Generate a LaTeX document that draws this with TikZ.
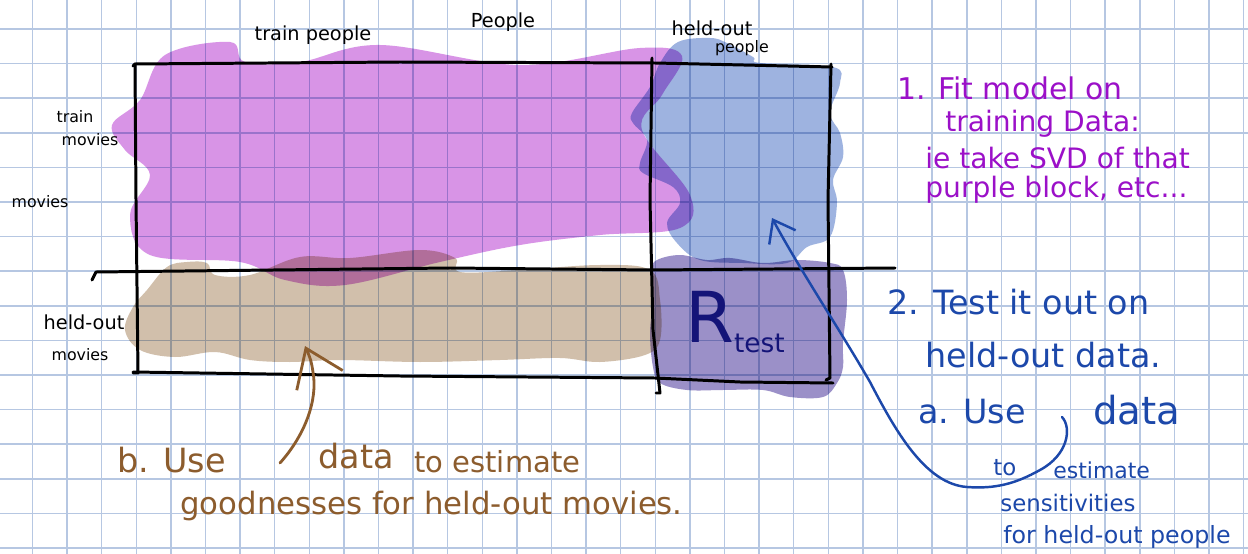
\documentclass[tikz,border=0pt]{standalone}
\usepackage{fontspec}
\setmainfont{DejaVu Sans}
\usepackage{xcolor}
\usepackage{tikz}
\usetikzlibrary{arrows.meta}

\definecolor{gridblue}{RGB}{182,199,226}
\definecolor{blobpurple}{RGB}{216,148,230}
\definecolor{blobblue}{RGB}{158,179,224}
\definecolor{blobtan}{RGB}{209,191,171}
\definecolor{blobtest}{RGB}{155,144,200}
\definecolor{inkpurple}{RGB}{155,16,200}
\definecolor{inkblue}{RGB}{28,72,170}
\definecolor{inkbrown}{RGB}{140,92,45}
\definecolor{inknavy}{RGB}{20,20,120}

\begin{document}
\begin{tikzpicture}[
  x=0.02cm, y=-0.02cm,
  gridline/.style={gridblue, line width=0.9pt},
  blob/.style={blend mode=multiply},
  pen/.style={line width=1.7pt, line cap=round, line join=round},
  tag/.style={inner sep=0pt, font=\fontsize{11}{13}\selectfont},
  smalltag/.style={inner sep=0pt, font=\fontsize{9}{11}\selectfont},
  fitnote/.style={inner sep=0pt, anchor=west, text=inkpurple, font=\fontsize{16}{18}\selectfont},
  testnote/.style={inner sep=0pt, anchor=west, text=inkblue, font=\fontsize{19}{21}\selectfont},
  testsmall/.style={testnote, font=\fontsize{13}{15}\selectfont},
  goodnote/.style={inner sep=0pt, anchor=west, text=inkbrown, font=\fontsize{19}{21}\selectfont},
  arrow/.style={line width=1.4pt, line cap=round, line join=round}
]
  \fill[white] (0,0) rectangle (1248,554);
  \useasboundingbox (0,0) rectangle (1248,554);

  % squared paper
  \foreach \gx in {0,...,35}
    \draw[gridline] ({32.5+34.6*\gx},0) -- ({32.5+34.6*\gx},554);
  \foreach \gy in {0,...,15}
    \draw[gridline] (0,{29+34.6*\gy}) -- (1248,{29+34.6*\gy});

  % coloured blocks
  \fill[blob, blobpurple] plot[smooth cycle, tension=0.6] coordinates {
    (112,125) (140,100) (165,55) (230,42) (245,62) (300,62) (380,45) (520,65)
    (640,48) (682,56) (662,95) (642,130) (690,195) (680,228) (600,235)
    (520,245) (440,262) (345,285) (285,280) (240,262) (150,255) (130,215)
    (150,175) (125,150)};
  \fill[blob, blobblue] plot[smooth cycle, tension=0.6] coordinates {
    (678,42) (710,38) (727,43) (753,57) (760,63) (833,67) (840,83) (830,113)
    (840,133) (843,157) (833,180) (837,203) (830,237) (807,247) (787,263)
    (743,263) (700,260) (677,243) (667,223) (680,203) (673,187) (643,173)
    (640,163) (647,140) (633,123) (632,113) (650,87) (660,63)};
  \fill[blob, blobtan] plot[smooth cycle, tension=0.6] coordinates {
    (125,330) (133,307) (147,290) (167,267) (187,262) (207,263) (215,275)
    (250,275) (300,257) (350,258) (420,250) (455,258) (460,272) (520,270)
    (600,265) (650,270) (660,300) (660,340) (645,355) (600,362) (560,358)
    (500,360) (420,362) (340,360) (290,362) (250,360) (215,352) (175,357)
    (140,350)};
  \fill[blob, blobtest] plot[smooth cycle, tension=0.6] coordinates {
    (657,260) (680,255) (707,260) (730,258) (763,263) (797,260) (830,263)
    (843,270) (847,300) (843,343) (843,367) (837,383) (823,397) (790,397)
    (763,390) (723,390) (687,390) (660,383) (653,367) (650,333) (653,300)
    (652,270)};

  % the matrix
  \draw[pen] (133,66) -- (135,64) -- (400,62) -- (655,63) -- (832,67);
  \draw[pen] (135,64) -- (136,200) -- (138,373) -- (133,373);
  \draw[pen] (652,58) -- (650,200) -- (653,330) -- (660,393) -- (656,393);
  \draw[pen] (831,64) -- (828,200) -- (830,378) -- (826,380);
  \draw[pen] (92,280) -- (96,272) -- (450,268) -- (652,270) -- (895,268);
  \draw[pen] (133,372) -- (400,376) -- (655,378) -- (740,382) -- (833,383);

  % axis labels
  \node[tag] (trainpeople) at (313,35) {train people};
  \node[tag] (people) at (503,22) {People};
  \node[tag] (heldpeople) at (712,28) {held-out};
  \node[smalltag] (heldpeople2) at (742,48) {people};
  \node[smalltag] (trainmovies) at (75,117) {train};
  \node[smalltag] (trainmovies2) at (90,140) {movies};
  \node[smalltag] (movies) at (40,202) {movies};
  \node[tag] (heldmovies) at (84,322) {held-out};
  \node[smalltag] (heldmovies2) at (80,355) {movies};

  \node[inner sep=0pt, text=inknavy] (rtest) at (735,322)
    {\fontsize{40}{40}\selectfont R\raisebox{-6pt}{\fontsize{15}{15}\selectfont test}};

  % step 1
  \node[fitnote, font=\fontsize{17}{19}\selectfont] (fit1) at (897,88) {1. Fit model on};
  \node[fitnote] (fit2) at (945,124) {training Data:};
  \node[fitnote] (fit3) at (925,158) {ie take SVD of that};
  \node[fitnote] (fit4) at (925,190) {purple block, etc...};

  % step 2
  \node[testnote] (test1) at (887,302) {2. Test it out on};
  \node[testnote] (test2) at (925,355) {held-out data.};
  \node[testnote] (usea) at (918,412) {a. Use};
  \node[testnote, font=\fontsize{22}{24}\selectfont] (dataa) at (1093,410) {data};
  \node[testsmall] (toa) at (993,468) {to};
  \node[testsmall, font=\fontsize{12.5}{14}\selectfont] (estimatea) at (1053,470) {estimate};
  \node[testsmall] (sensitivities) at (1000,503) {sensitivities};
  \node[testsmall, font=\fontsize{13.5}{15}\selectfont] (forpeople) at (1003,537) {for held-out people};

  \node[goodnote] (useb) at (117,460) {b. Use};
  \node[goodnote] (datab) at (318,456) {data};
  \node[goodnote, font=\fontsize{16.5}{19}\selectfont] (estimateb) at (414,462) {to estimate};
  \node[goodnote, font=\fontsize{17.5}{19}\selectfont] (goodb) at (180,506) {goodnesses for held-out movies.};

  % arrows
  \coordinate (fromusea) at (1062,417);
  \coordinate (intopeople) at (772,218);
  \coordinate (fromuseb) at (280,463);
  \coordinate (intomovies) at (305,346);

  \draw[arrow, inkblue, -{Straight Barb[length=4mm, width=6mm]}] (fromusea)
    .. controls (1072,428) and (1068,455) .. (1040,470)
    .. controls (1015,484) and (995,489) .. (967,487)
    .. controls (925,484) and (895,430) .. (870,382)
    .. controls (840,330) and (800,270) .. (intopeople);
  \draw[arrow, inkbrown, line width=1.6pt, -{Straight Barb[length=7mm, width=10mm]}] (fromuseb)
    .. controls (305,435) and (318,400) .. (313,372)
    .. controls (311,360) .. (intomovies);
\end{tikzpicture}
\end{document}
